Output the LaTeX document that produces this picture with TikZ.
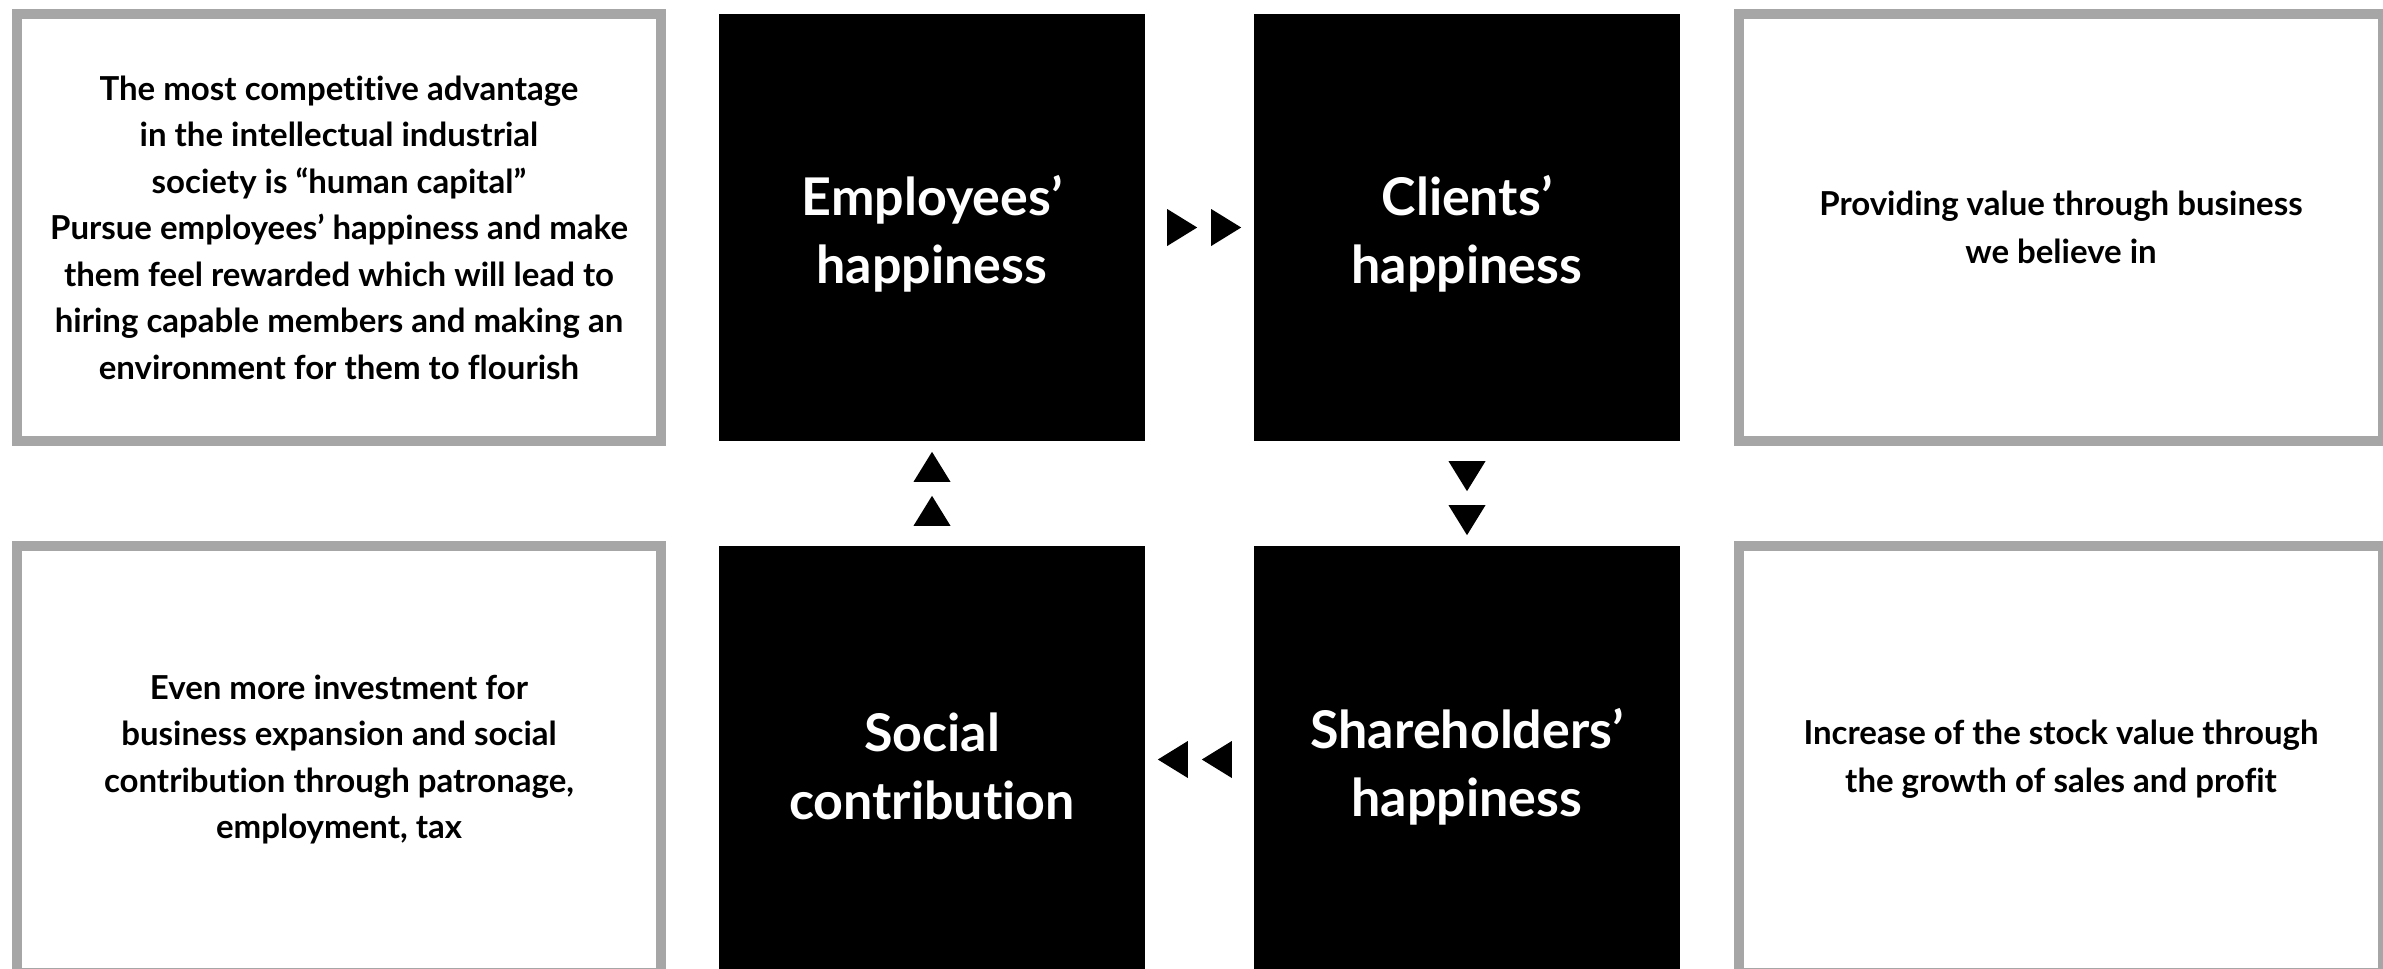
\documentclass[tikz,border=0pt]{standalone}
\usepackage{fontspec}
\setmainfont{Lato}[Ligatures=NoCommon]
\usetikzlibrary{shapes.geometric,calc}
\definecolor{framegray}{HTML}{A6A6A6}
\begin{document}
\begin{tikzpicture}[x=1pt,y=-1pt,
  panel/.style={rectangle, fill=black, text=white, minimum width=426pt,
    minimum height=427pt, inner sep=0pt, align=center,
    font=\bfseries\fontsize{52}{68}\selectfont},
  title/.style={text=white, align=center, inner sep=0pt,
    font=\bfseries\fontsize{52}{68}\selectfont},
  note/.style={rectangle, draw=framegray, line width=10pt, fill=white,
    minimum width=644pt, minimum height=427pt, inner sep=0pt, align=center,
    text=black, font=\bfseries\fontsize{33}{46.5}\selectfont},
  tri/.style={isosceles triangle, isosceles triangle stretches, fill=black,
    inner sep=0pt, minimum height=30pt, minimum width=37pt}]
\useasboundingbox (0,0) rectangle (2383,969);
\clip (0,0) rectangle (2383,969);
\fill[white] (0,0) rectangle (2383,969);

% the four stages of the cycle
\node[panel] (emp) at (932,227.5) {};
\node[panel] (cli) at (1467,227.5) {};
\node[panel] (sha) at (1467,759.5) {};
\node[panel] (soc) at (932,759.5) {};
\node[title] (temp) at ($(emp.center)+(0,6)$) {Employees’\\happiness};
\node[title] (tcli) at ($(cli.center)+(0,6)$) {Clients’\\happiness};
\node[title] (tsha) at ($(sha.center)+(0,7)$) {Shareholders’\\happiness};
\node[title] (tsoc) at ($(soc.center)+(0,7)$) {Social\\contribution};

% explanatory notes
\node[note] (nemp) at (339,227.5) {The most competitive advantage\\
  in the intellectual industrial\\
  society is “human capital”\\
  Pursue employees’ happiness and make\\
  them feel rewarded which will lead to\\
  hiring capable members and making an\\
  environment for them to flourish};
\node[note] (ncli) at (2061,227.5) {Providing value through business\\[1.5pt]we believe in};
\node[note] (nsoc) at (339,759.5) {Even more investment for\\
  business expansion and social\\
  contribution through patronage,\\
  employment, tax};
\node[note] (nsha) at (2061,759.5) {Increase of the stock value through\\[1.5pt]the growth of sales and profit};

% double triangles between the stages
\coordinate (m1) at ($(emp.east)!0.5!(cli.west)$);
\node[tri] (a1) at ($(m1)+(-22,0)$) {};
\node[tri] (a2) at ($(m1)+(22,0)$) {};

\coordinate (m2) at ($(cli.south)!0.5!(sha.north)$);
\node[tri, shape border rotate=270] (b1) at ($(m2)+(0,-22)$) {};
\node[tri, shape border rotate=270] (b2) at ($(m2)+(0,22)$) {};

\coordinate (m3) at ($(sha.west)!0.5!(soc.east)$);
\node[tri, shape border rotate=180] (c1) at ($(m3)+(-22,0)$) {};
\node[tri, shape border rotate=180] (c2) at ($(m3)+(22,0)$) {};

\coordinate (m4) at ($(soc.north)!0.5!(emp.south)$);
\node[tri, shape border rotate=90] (d1) at ($(m4)+(0,-22)$) {};
\node[tri, shape border rotate=90] (d2) at ($(m4)+(0,22)$) {};
\end{tikzpicture}
\end{document}
